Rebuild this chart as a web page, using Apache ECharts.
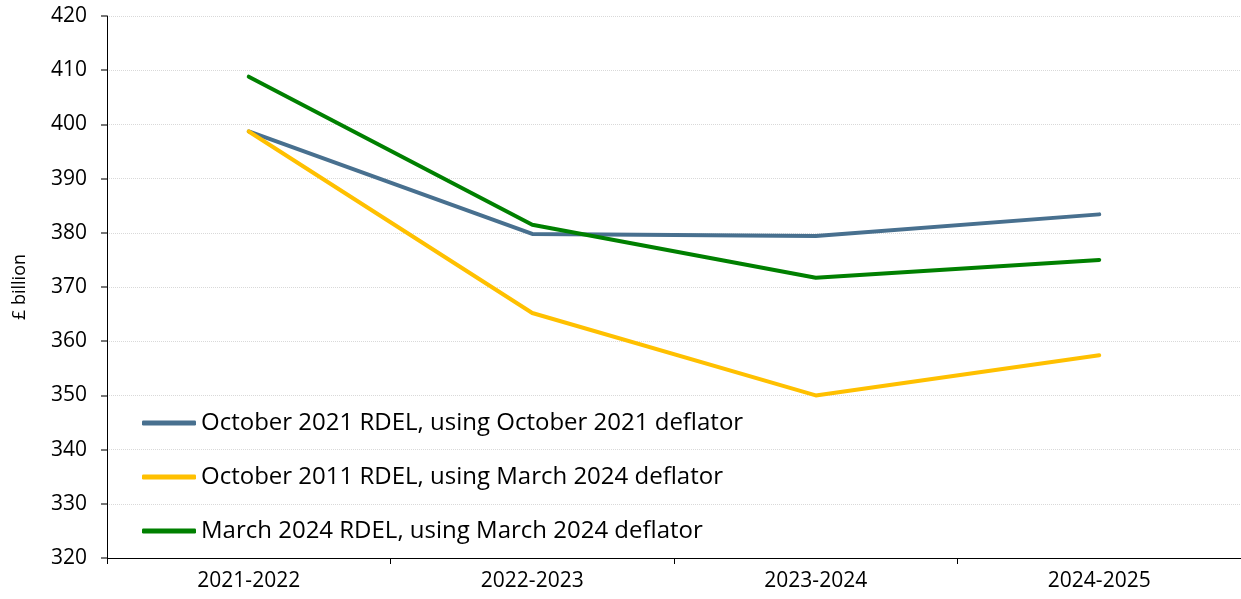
<!DOCTYPE html>
<html>
<head>
<meta charset="utf-8">
<script src="https://cdn.jsdelivr.net/npm/echarts@6/dist/echarts.min.js"></script>
<style>
html,body{margin:0;padding:0;background:#fff;}
#chart{width:1241px;height:599px;}
</style>
</head>
<body>
<div id="chart"></div>
<script>
const categories = ['2021-2022', '2022-2023', '2023-2024', '2024-2025'];
const seriesNames = [
  'October 2021 RDEL, using October 2021 deflator',
  'October 2011 RDEL, using March 2024 deflator',
  'March 2024 RDEL, using March 2024 deflator'
];
const oct2021 = [398.7, 379.8, 379.4, 383.4];
const oct2011 = [398.7, 365.2, 350.0, 357.4];
const mar2024 = [408.8, 381.5, 371.7, 375.0];
const colors = ['#48708F', '#FFC000', '#008000'];
const yName = '£ billion';

const FONT = '"Open Sans", sans-serif';
const chart = echarts.init(document.getElementById('chart'), null, {renderer: 'canvas'});
const mk = (name, data, color) => ({
  name, type: 'line', data, symbol: 'none', smooth: false,
  lineStyle: {color, width: 4, cap: 'round', join: 'round'},
  itemStyle: {color},
  emphasis: {disabled: true}
});
chart.setOption({
  animation: false,
  grid: {left: 107, right: -2, top: 16, bottom: 41, containLabel: false},
  legend: {
    orient: 'vertical', left: 142, top: 409, padding: 0,
    itemWidth: 54, itemHeight: 5, itemGap: 26, icon: 'roundRect',
    textStyle: {fontFamily: FONT, fontSize: 24, color: '#000', lineHeight: 28},
    data: seriesNames
  },
  xAxis: {
    type: 'category', data: categories, boundaryGap: true,
    axisLine: {lineStyle: {color: '#000', width: 1}},
    axisTick: {show: true, alignWithLabel: false, length: 6, lineStyle: {color: '#000'}},
    axisLabel: {fontFamily: FONT, fontSize: 21, color: '#000', margin: 13},
    splitLine: {show: false}
  },
  yAxis: {
    type: 'value', min: 320, max: 420, interval: 10,
    name: yName, nameLocation: 'middle', nameGap: 78, nameRotate: 90,
    nameTextStyle: {fontFamily: FONT, fontSize: 18, color: '#000'},
    axisLine: {show: true, lineStyle: {color: '#000', width: 1}},
    axisTick: {show: true, inside: false, length: 6, lineStyle: {color: '#777', width: 2}},
    axisLabel: {fontFamily: FONT, fontSize: 21, color: '#000', margin: 20},
    splitLine: {show: true, lineStyle: {color: '#d9d9d9', type: 'dotted', width: 1}}
  },
  series: [
    mk(seriesNames[0], oct2021, colors[0]),
    mk(seriesNames[1], oct2011, colors[1]),
    mk(seriesNames[2], mar2024, colors[2])
  ]
});
</script>
</body>
</html>
